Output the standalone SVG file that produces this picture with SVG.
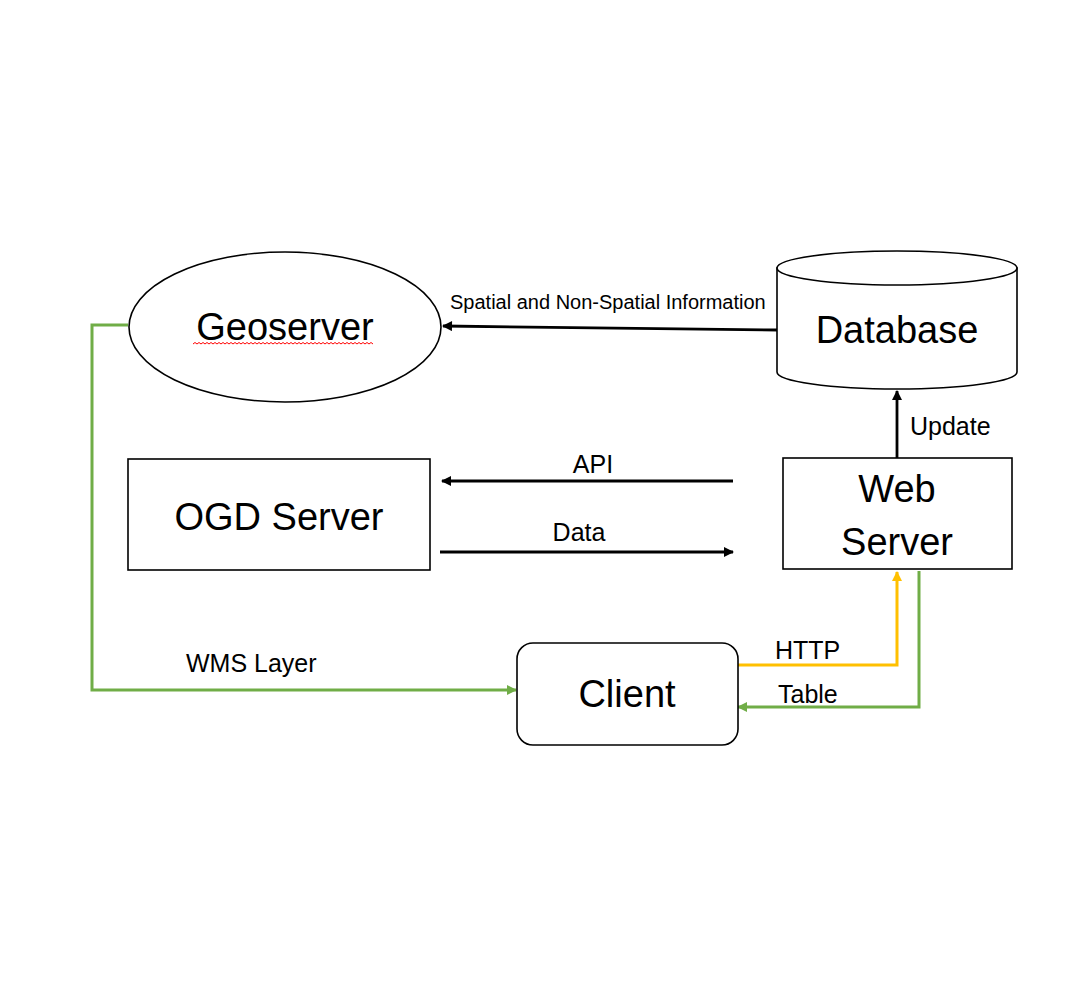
<svg xmlns="http://www.w3.org/2000/svg" width="1088" height="995" viewBox="0 0 1088 995">
<style>
  .shape { fill: #ffffff; stroke: #000000; stroke-width: 1.6; }
  .big { font-family: "Liberation Sans", Arial, sans-serif; font-size: 38px; fill: #000; text-anchor: middle; }
  .lbl { font-family: "Liberation Sans", Arial, sans-serif; font-size: 25px; fill: #000; }
  .small { font-family: "Liberation Sans", Arial, sans-serif; font-size: 20px; fill: #000; }
  .blk { fill: none; stroke: #000; stroke-width: 2.8; marker-end: url(#ahBlack); }
  .grn { fill: none; stroke: #70AD47; stroke-width: 3; marker-end: url(#ahGreen); }
  .yel { fill: none; stroke: #FFC000; stroke-width: 3; marker-end: url(#ahYellow); }
</style>
<defs>
  <marker id="ahBlack" viewBox="0 0 10 10" refX="9" refY="5" markerUnits="userSpaceOnUse" markerWidth="11" markerHeight="10" orient="auto">
    <path d="M0,0 L10,5 L0,10 Z" fill="#000"/>
  </marker>
  <marker id="ahGreen" viewBox="0 0 10 10" refX="9" refY="5" markerUnits="userSpaceOnUse" markerWidth="11" markerHeight="10" orient="auto">
    <path d="M0,0 L10,5 L0,10 Z" fill="#70AD47"/>
  </marker>
  <marker id="ahYellow" viewBox="0 0 10 10" refX="9" refY="5" markerUnits="userSpaceOnUse" markerWidth="11" markerHeight="10" orient="auto">
    <path d="M0,0 L10,5 L0,10 Z" fill="#FFC000"/>
  </marker>
</defs>
<rect width="1088" height="995" fill="#ffffff"/>

<g id="connectors">
  <path class="blk" d="M778,330 L443,326"/>
  <path class="blk" d="M897,458 L897,391"/>
  <path class="blk" d="M733,481 L442,481"/>
  <path class="blk" d="M440,552 L733,552"/>
  <path class="yel" d="M738,665 L897,665 L897,572"/>
  <path class="grn" d="M919,571 L919,707 L738,707"/>
  <path class="grn" d="M128,325 L92,325 L92,690 L516,690"/>
  <text class="small" x="450" y="309">Spatial and Non-Spatial Information</text>
  <text class="lbl" x="910" y="435">Update</text>
  <text class="lbl" x="593" y="473" text-anchor="middle">API</text>
  <text class="lbl" x="579" y="541" text-anchor="middle">Data</text>
  <text class="lbl" x="775" y="659">HTTP</text>
  <text class="lbl" x="778" y="703">Table</text>
  <text class="lbl" x="186" y="672">WMS Layer</text>
</g>

<g id="geoserver">
  <ellipse class="shape" cx="285" cy="327" rx="156" ry="75"/>
  <text class="big" x="285" y="340">Geoserver</text>
  <path d="M193,344 l2,-1.5 l2,1.5 l2,-1.5 l2,1.5 l2,-1.5 l2,1.5 l2,-1.5 l2,1.5 l2,-1.5 l2,1.5 l2,-1.5 l2,1.5 l2,-1.5 l2,1.5 l2,-1.5 l2,1.5 l2,-1.5 l2,1.5 l2,-1.5 l2,1.5 l2,-1.5 l2,1.5 l2,-1.5 l2,1.5 l2,-1.5 l2,1.5 l2,-1.5 l2,1.5 l2,-1.5 l2,1.5 l2,-1.5 l2,1.5 l2,-1.5 l2,1.5 l2,-1.5 l2,1.5 l2,-1.5 l2,1.5 l2,-1.5 l2,1.5 l2,-1.5 l2,1.5 l2,-1.5 l2,1.5 l2,-1.5 l2,1.5 l2,-1.5 l2,1.5 l2,-1.5 l2,1.5 l2,-1.5 l2,1.5 l2,-1.5 l2,1.5 l2,-1.5 l2,1.5 l2,-1.5 l2,1.5 l2,-1.5 l2,1.5 l2,-1.5 l2,1.5 l2,-1.5 l2,1.5 l2,-1.5 l2,1.5 l2,-1.5 l2,1.5 l2,-1.5 l2,1.5 l2,-1.5 l2,1.5 l2,-1.5 l2,1.5 l2,-1.5 l2,1.5 l2,-1.5 l2,1.5 l2,-1.5 l2,1.5 l2,-1.5 l2,1.5 l2,-1.5 l2,1.5 l2,-1.5 l2,1.5 l2,-1.5 l2,1.5 l2,-1.5 l2,1.5" fill="none" stroke="#ff0000" stroke-width="1"/>
</g>

<g id="database">
  <path class="shape" d="M777,268 L777,372 A120,17 0 0 0 1017,372 L1017,268 Z"/>
  <ellipse class="shape" cx="897" cy="268" rx="120" ry="17"/>
  <text class="big" x="897" y="343">Database</text>
</g>

<g id="ogd-server">
  <rect class="shape" x="128" y="459" width="302" height="111"/>
  <text class="big" x="279" y="530">OGD Server</text>
</g>

<g id="web-server">
  <rect class="shape" x="783" y="458" width="229" height="111"/>
  <text class="big" x="897" y="502">Web</text>
  <text class="big" x="897" y="555">Server</text>
</g>

<g id="client">
  <rect class="shape" x="517" y="643" width="221" height="102" rx="16" ry="16"/>
  <text class="big" x="627" y="707">Client</text>
</g>
</svg>
